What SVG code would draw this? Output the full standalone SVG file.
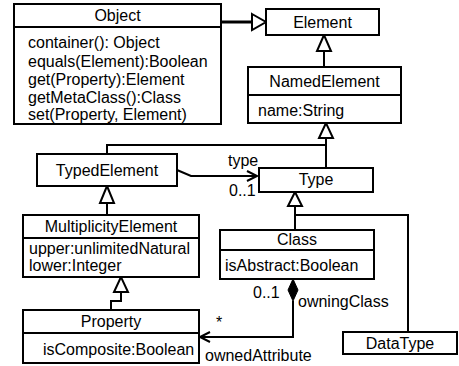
<svg xmlns="http://www.w3.org/2000/svg" width="459" height="366" viewBox="0 0 459 366">
<style>
.box{fill:#fff;stroke:#000;stroke-width:2}
.ln{fill:none;stroke:#000;stroke-width:2}
.tri{fill:#fff;stroke:#000;stroke-width:2;stroke-linejoin:miter}
text{font-family:"Liberation Sans",Arial,sans-serif;font-size:16px;fill:#000}
.c{text-anchor:middle}
</style>
<rect width="459" height="366" fill="#fff"/>
<g id="connectors">
<path class="ln" d="M221,22 H252" style="stroke-width:3"/>
<polygon class="tri" points="252,14 266,22 252,30"/>
<path class="ln" d="M324,67 V51"/>
<polygon class="tri" points="324,35 317,51 331,51"/>
<path class="ln" d="M107,154 V145 H326 M326,168 V138"/>
<polygon class="tri" points="326,123 319,138 333,138"/>
<path class="ln" d="M177,170 L191,176 H257 M247,171 L257,176 L247,181"/>
<path class="ln" d="M107,203 V215"/>
<polygon class="tri" points="107,186 100,203 114,203"/>
<path class="ln" d="M121,292 V301 H111 V310"/>
<polygon class="tri" points="121,277 114,292 128,292"/>
<path class="ln" d="M295,206 V230 M295,215 H408 V332"/>
<polygon class="tri" points="295,192 288,206 302,206"/>
<polygon points="293,279 298,290 293,301 288,290" fill="#000" stroke="#000" stroke-width="1"/>
<path class="ln" d="M293,301 V337 H200 M210,332 L200,337 L210,342"/>
<text x="228" y="166">type</text>
<text x="229" y="196">0..1</text>
<text x="253" y="298">0..1</text>
<text x="298" y="307">owningClass</text>
<text x="216" y="328">*</text>
<text x="205" y="361">ownedAttribute</text>
</g>
<g id="Object">
<rect class="box" x="14" y="4" width="207" height="120"/>
<line class="ln" x1="14" y1="27" x2="221" y2="27"/>
<text class="c" x="117.5" y="21">Object</text>
<text x="28" y="48">container(): Object</text>
<text x="28" y="67">equals(Element):Boolean</text>
<text x="28" y="85">get(Property):Element</text>
<text x="28" y="103">getMetaClass():Class</text>
<text x="28" y="120">set(Property, Element)</text>
</g>
<g id="Element">
<rect class="box" x="266" y="9" width="113" height="26"/>
<text class="c" x="322.5" y="28">Element</text>
</g>
<g id="NamedElement">
<rect class="box" x="248" y="67" width="153" height="56"/>
<line class="ln" x1="248" y1="95" x2="401" y2="95"/>
<text class="c" x="324.5" y="87">NamedElement</text>
<text x="258" y="116">name:String</text>
</g>
<g id="TypedElement">
<rect class="box" x="37" y="154" width="140" height="32"/>
<text class="c" x="107" y="176">TypedElement</text>
</g>
<g id="Type">
<rect class="box" x="259" y="168" width="114" height="24"/>
<text class="c" x="316" y="185">Type</text>
</g>
<g id="MultiplicityElement">
<rect class="box" x="23" y="215" width="176" height="62"/>
<line class="ln" x1="23" y1="238" x2="199" y2="238"/>
<text class="c" x="111" y="232">MultiplicityElement</text>
<text x="29" y="254">upper:unlimitedNatural</text>
<text x="29" y="271">lower:Integer</text>
</g>
<g id="Class">
<rect class="box" x="220" y="230" width="154" height="49"/>
<line class="ln" x1="220" y1="250" x2="374" y2="250"/>
<text class="c" x="297" y="245">Class</text>
<text x="225" y="271">isAbstract:Boolean</text>
</g>
<g id="Property">
<rect class="box" x="23" y="310" width="176" height="53"/>
<line class="ln" x1="23" y1="333" x2="199" y2="333"/>
<text class="c" x="111" y="327">Property</text>
<text x="43" y="355">isComposite:Boolean</text>
</g>
<g id="DataType">
<rect class="box" x="343" y="332" width="114" height="22"/>
<text class="c" x="400" y="349">DataType</text>
</g>
</svg>
